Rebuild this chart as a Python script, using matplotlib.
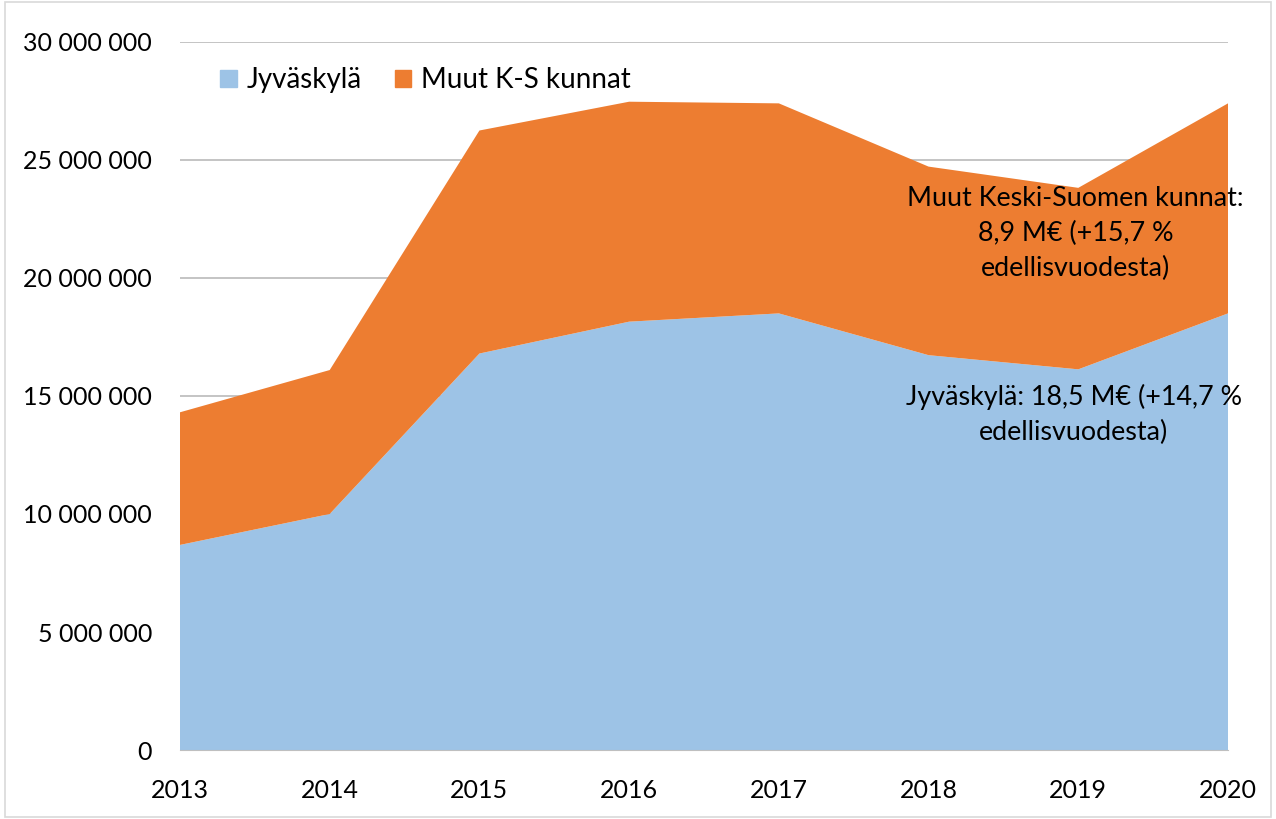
import matplotlib
matplotlib.use("Agg")
import matplotlib.pyplot as plt
from matplotlib.patches import Patch, Rectangle
from matplotlib.ticker import FuncFormatter

years = [2013, 2014, 2015, 2016, 2017, 2018, 2019, 2020]
jyvaskyla = [8.69e6, 10.0e6, 16.8e6, 18.15e6, 18.5e6, 16.73e6, 16.13e6, 18.5e6]
muut = [5.62e6, 6.1e6, 9.45e6, 9.32e6, 8.9e6, 7.99e6, 7.69e6, 8.9e6]
labels = ["Jyväskylä", "Muut K-S kunnat"]
colors = ["#9DC3E6", "#ED7D31"]

plt.rcParams['font.family'] = ['Lato', 'DejaVu Sans']

fig = plt.figure(figsize=(12.76, 8.19), dpi=100)
ax = fig.add_axes([180/1276, 1 - 750/819, (1228-180)/1276, (750-42)/819])

ax.stackplot(years, jyvaskyla, muut, colors=colors, labels=labels, zorder=2)

ax.set_xlim(2013, 2020)
ax.set_ylim(0, 30e6)
ax.set_yticks(range(0, 30000001, 5000000))
ax.yaxis.set_major_formatter(FuncFormatter(lambda v, p: "{:,.0f}".format(v).replace(",", " ")))
ax.set_xticks(years)
ax.grid(axis='y', color='#BFBFBF', linewidth=1.3, zorder=1)
ax.set_axisbelow(True)
for s in ['top', 'right', 'left']:
    ax.spines[s].set_visible(False)
ax.spines['bottom'].set_color('#BFBFBF')
ax.tick_params(axis='both', length=0, labelsize=18)
ax.tick_params(axis='y', pad=20)
ax.tick_params(axis='x', pad=21)

handles = [Patch(color=c) for c in colors]
ax.legend(handles, labels, loc='center left', bbox_to_anchor=(0.028, 0.946), ncol=2,
          frameon=False, fontsize=20, handlelength=0.58, handleheight=0.6,
          handletextpad=0.35, columnspacing=1.2, borderaxespad=0)

ax.text(2018.98, 21.9e6, "Muut Keski-Suomen kunnat:\n8,9 M€ (+15,7 %\nedellisvuodesta)",
        ha='center', va='center', fontsize=19.4, linespacing=1.5)
ax.text(2018.97, 14.2e6, "Jyväskylä: 18,5 M€ (+14,7 %\nedellisvuodesta)",
        ha='center', va='center', fontsize=19.4, linespacing=1.5)

fig.patches.append(Rectangle((0.004, 0.003), 0.992, 0.994, transform=fig.transFigure,
                             fill=False, edgecolor='#D9D9D9', linewidth=1.2))

plt.savefig("out.png", dpi=100)
